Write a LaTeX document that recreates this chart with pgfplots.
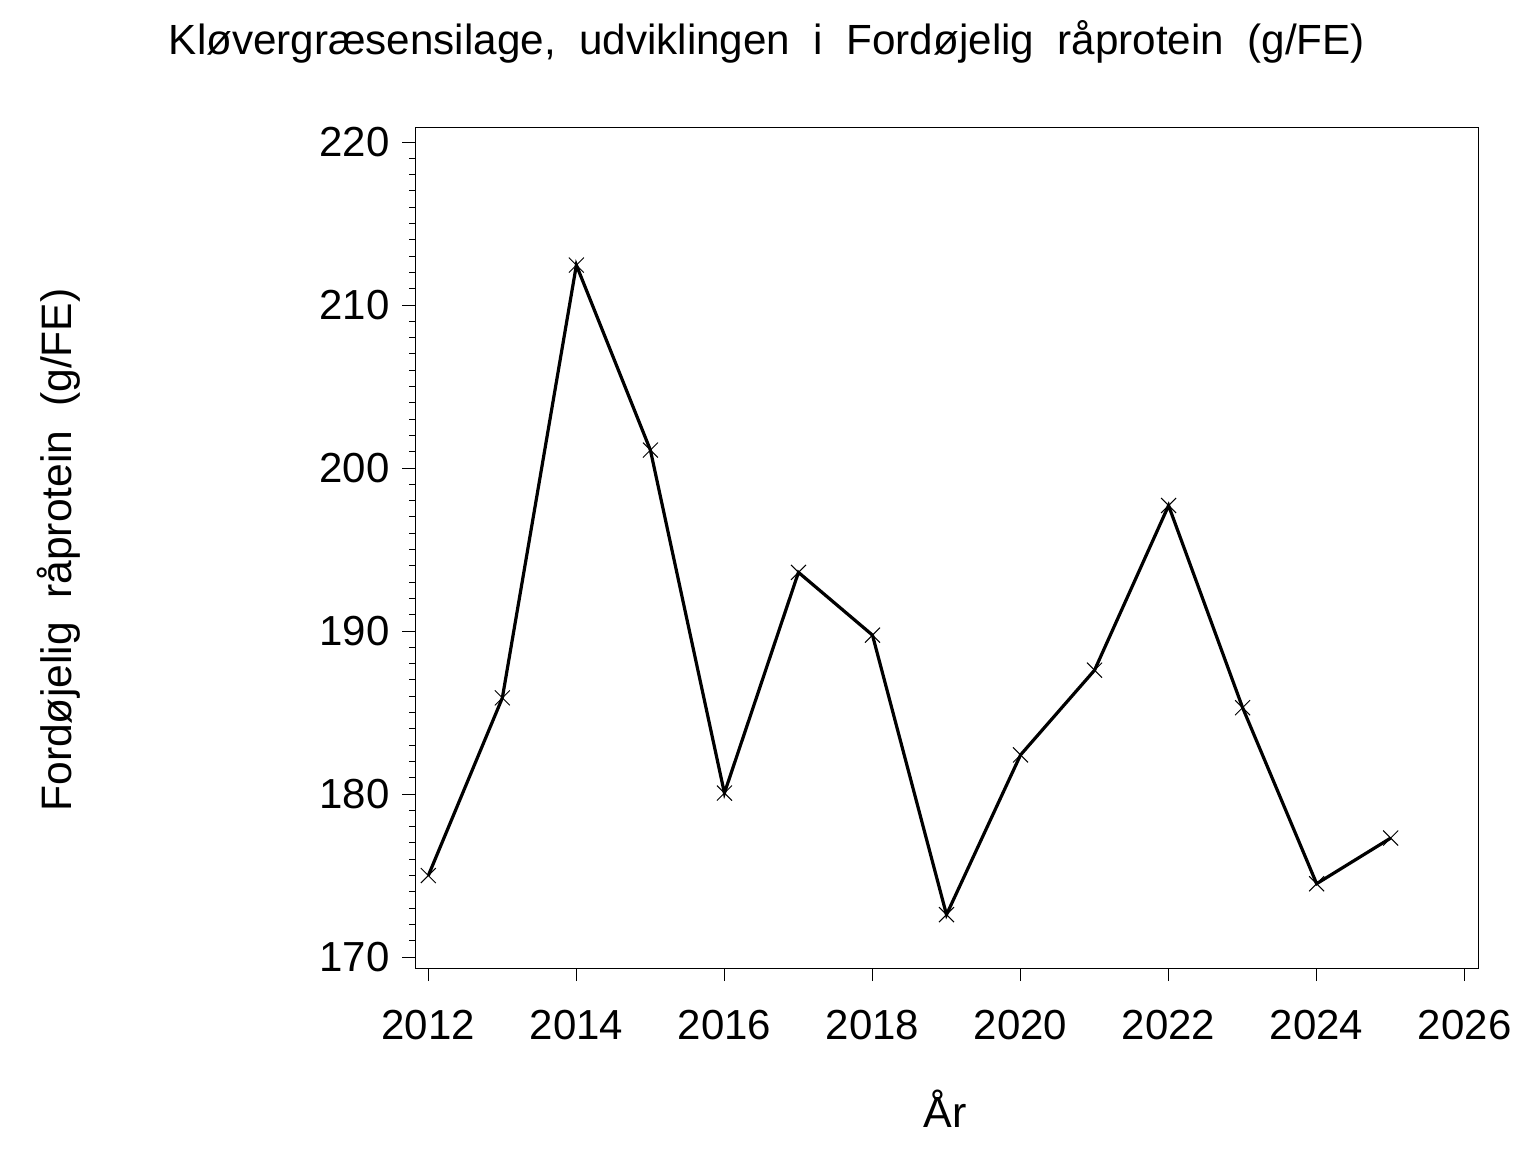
\documentclass[border=0pt]{standalone}
\usepackage{fontspec}
\setmainfont{Liberation Sans}
\usepackage{pgfplots}
\pgfplotsset{compat=1.18}
\newcommand{\wsp}{\hspace{0.556em}}
\begin{document}
\begin{tikzpicture}
\useasboundingbox (-207.5bp,-92bp) rectangle (560.5bp,484bp);
\begin{axis}[
  at={(0,0)}, anchor=south west,
  scale only axis, width=531.5bp, height=420bp,
  xmin=2011.82, xmax=2026.18, ymin=169.33, ymax=220.86,
  xtick={2012,2014,...,2026}, minor x tick num=4,
  ytick={170,180,...,220}, minor y tick num=9,
  xtick pos=left, ytick pos=left, tick align=outside,
  major tick length=6.5bp, minor tick length=3bp,
  axis line style={line width=0.5bp}, every tick/.style={line width=0.5bp, black},
  /pgf/number format/1000 sep={}, /pgf/number format/assume math mode=true,
  tick label style={font=\fontsize{21bp}{24bp}\selectfont},
  xticklabel style={anchor=north, inner sep=0pt, yshift=-14.5bp},
  yticklabel style={anchor=east, inner sep=0pt, xshift=-6bp},
  clip=false,
]
\addplot[black, line width=1.6bp, mark=x, mark size=5.3bp, mark options={line width=0.5bp}] coordinates {
(2012,175.0) (2013,185.9) (2014,212.45) (2015,201.1) (2016,180.06) (2017,193.6) (2018,189.75)
(2019,172.6) (2020,182.4) (2021,187.6) (2022,197.7) (2023,185.3) (2024,174.5) (2025,177.3)
};
\end{axis}
\node[anchor=base, font=\fontsize{21.1bp}{26bp}\selectfont] at (176bp,456.5bp) {Kløvergræsensilage,\wsp udviklingen\wsp i\wsp Fordøjelig\wsp råprotein\wsp (g/FE)};
\node[anchor=base, rotate=90, font=\fontsize{21.3bp}{26bp}\selectfont] at (-171.5bp,209bp) {Fordøjelig\wsp råprotein\wsp (g/FE)};
\node[anchor=base, font=\fontsize{21.5bp}{26bp}\selectfont] at (265bp,-79.5bp) {År};
\end{tikzpicture}
\end{document}
